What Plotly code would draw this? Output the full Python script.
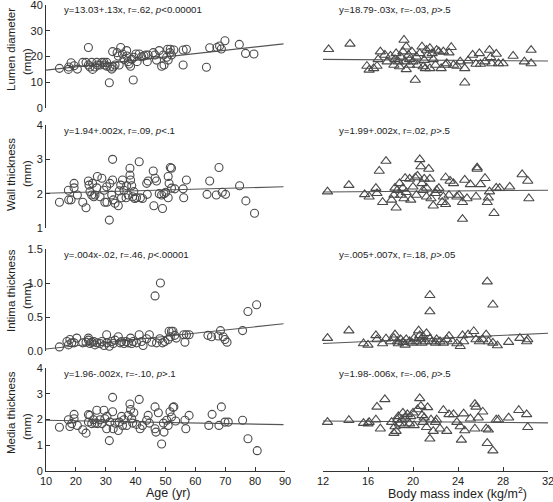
import plotly.graph_objects as go

# ---------------- data ----------------
age_lumen = [14.5,17.5,17.6,18.4,19.4,20.5,22.3,23.4,24.2,24.2,24.7,25.3,25.6,26.4,27.2,27.0,28.1,28.7,29.4,29.7,
             30.3,30.4,31.2,31.4,32.0,32.3,32.5,33.1,33.8,34.2,34.5,35.0,35.6,36.1,37.0,37.1,37.5,37.8,38.3,38.7,
             39.2,39.4,40.1,40.5,41.2,42.0,42.8,43.4,43.9,44.2,45.9,46.5,47.0,47.9,48.7,49.5,49.3,50.4,50.7,50.9,
             51.5,51.6,52.0,52.8,55.9,55.9,57.0,63.7,64.8,67.2,68.1,68.7,69.9,74.7,76.8,79.6]
lumen_by_age = [15.4,15.0,15.9,17.6,16.4,15.1,17.7,17.7,23.5,16.7,15.9,17.7,15.0,15.9,16.7,17.7,16.7,17.7,17.7,16.7,
                17.7,16.2,9.8,15.9,15.1,21.9,15.9,16.7,21.5,20.2,16.7,23.5,21.0,18.9,22.3,20.2,18.0,17.1,16.2,18.9,
                10.9,19.7,21.0,18.0,21.0,19.9,20.2,20.6,18.0,20.6,21.5,20.6,18.6,22.3,16.2,16.7,20.6,19.7,22.8,18.6,
                21.5,22.8,20.6,22.5,16.7,22.5,22.8,15.8,23.4,23.5,24.1,22.9,26.1,24.7,21.2,21.0]

age_wall = [14.5,17.5,17.6,18.4,19.4,19.4,20.5,22.3,23.4,24.2,24.4,24.7,25.3,25.6,26.0,26.4,27.0,27.2,28.1,28.7,
            29.4,29.7,30.3,30.4,31.2,31.4,32.0,32.3,32.3,32.5,33.1,34.2,34.5,35.0,35.3,35.6,36.1,36.8,37.0,37.5,
            38.1,38.1,38.3,38.7,39.0,39.4,39.7,40.3,41.2,41.6,42.3,43.7,43.9,44.2,45.9,46.1,46.5,47.0,47.9,48.7,
            49.0,49.5,50.1,50.9,50.9,51.2,51.6,52.0,52.0,53.1,55.9,56.1,57.0,63.9,64.8,67.0,67.9,69.0,70.1,74.8,
            76.9,79.8]
wall_by_age = [1.75,2.10,1.82,1.82,2.30,2.17,1.96,1.75,1.59,2.37,2.25,2.06,1.96,2.30,1.91,1.96,2.17,2.50,1.91,2.45,
               2.10,1.75,2.20,1.75,1.23,2.30,1.96,3.00,2.40,1.82,1.72,1.65,2.08,2.25,1.88,2.40,2.10,1.88,2.23,1.96,
               2.74,2.54,2.40,2.23,1.91,2.06,1.86,1.88,2.93,1.88,1.86,2.30,1.98,2.37,2.66,1.65,2.45,2.37,2.00,1.96,
               1.57,2.00,2.04,2.50,1.88,2.30,2.76,2.74,2.16,2.14,2.14,1.88,2.40,1.98,2.37,1.96,2.76,2.04,1.98,2.23,
               1.79,1.43]

age_intima = [14.5,17.0,17.5,18.0,18.6,19.4,20.3,22.3,23.4,24.2,24.2,24.7,25.3,26.0,26.4,27.0,28.1,28.7,29.4,30.3,
              30.4,31.2,32.0,32.5,33.1,34.2,34.8,35.3,36.1,36.8,37.5,38.3,38.7,39.2,40.3,41.2,42.0,42.5,43.7,44.6,
              45.4,46.5,47.0,48.3,48.1,49.0,49.8,50.9,51.2,51.6,52.0,52.5,53.1,53.6,56.1,56.5,57.0,57.9,64.2,65.4,
              67.6,68.4,69.3,69.9,70.6,75.8,77.6,80.5]
intima_by_age = [0.06,0.14,0.09,0.17,0.12,0.12,0.19,0.12,0.13,0.19,0.16,0.11,0.13,0.14,0.09,0.12,0.11,0.14,0.08,0.24,
                 0.12,0.07,0.14,0.11,0.16,0.21,0.12,0.14,0.11,0.14,0.12,0.19,0.11,0.14,0.12,0.24,0.14,0.08,0.18,0.24,
                 0.13,0.81,0.12,1.00,0.18,0.12,0.14,0.17,0.29,0.21,0.29,0.29,0.23,0.19,0.24,0.13,0.24,0.24,0.23,0.21,
                 0.22,0.30,0.21,0.17,0.13,0.30,0.58,0.68]

age_media = [14.5,17.5,18.0,18.6,19.4,19.4,20.5,22.3,23.4,24.2,24.2,24.7,25.3,25.9,26.4,27.0,27.2,28.1,28.7,29.4,
             29.7,30.3,30.4,31.2,31.4,32.3,32.3,32.5,33.1,34.2,34.5,35.3,35.6,36.1,37.0,37.5,38.1,38.3,38.7,39.0,
             39.4,40.3,41.2,41.5,42.3,43.7,44.2,44.6,46.5,46.5,46.8,47.6,48.7,49.3,49.5,50.4,50.9,51.5,52.0,52.5,
             52.8,53.4,56.5,56.8,57.9,64.5,65.6,67.9,68.7,69.9,71.0,75.8,77.6,80.7]
media_by_age = [1.70,1.99,1.73,1.84,2.20,2.03,1.77,1.60,1.47,2.19,1.90,2.16,1.84,1.99,1.86,2.36,1.84,1.99,1.84,2.36,
                2.03,1.64,2.12,1.18,1.90,2.86,2.30,1.64,1.86,1.57,1.90,2.12,1.77,1.99,1.77,2.16,2.60,2.39,2.03,1.86,
                2.26,1.81,2.78,1.64,1.77,1.97,2.16,1.86,2.49,1.64,1.51,2.26,1.05,1.86,1.51,1.97,1.77,2.30,2.10,2.47,
                2.49,1.94,1.97,1.64,2.16,1.77,2.20,1.77,2.49,1.90,1.90,1.97,1.25,0.79]

bmi_lumen = [12.5,14.4,15.9,16.1,16.5,16.8,16.9,17.1,17.5,17.7,18.0,18.3,18.4,18.5,18.7,18.8,18.9,19.1,19.2,19.3,
             19.4,19.4,19.6,19.7,19.7,19.9,20.0,20.2,20.3,20.4,20.6,20.8,20.9,21.0,21.1,21.2,21.3,21.5,21.5,21.7,
             21.8,22.0,22.1,22.3,22.5,22.7,22.9,23.0,23.2,23.4,23.6,23.9,24.2,24.6,24.6,24.9,25.3,25.6,25.9,26.0,
             26.4,26.8,26.9,27.0,27.4,27.6,28.0,28.9,29.9,30.5,30.5]
lumen_by_bmi = [22.8,24.9,16.3,14.8,15.4,16.3,18.9,21.9,20.6,18.0,20.2,16.7,18.9,21.2,18.0,16.1,19.9,21.9,26.4,18.0,
                23.8,15.0,20.6,18.9,16.7,21.9,18.0,10.9,19.9,16.7,21.2,23.8,16.1,18.6,15.4,22.5,20.6,23.2,15.4,21.2,
                18.9,16.7,22.5,21.9,15.4,21.9,16.7,17.3,21.5,23.6,16.7,16.3,18.0,9.8,15.4,18.4,20.6,17.1,21.2,17.1,
                18.0,22.5,19.7,17.3,21.0,17.3,17.3,20.2,18.0,22.5,17.3]

bmi_wall = [12.4,14.3,15.7,16.1,16.7,16.8,17.0,17.3,17.6,18.1,18.3,18.4,18.5,18.6,18.8,18.9,19.1,19.2,19.3,19.4,
            19.7,19.8,20.0,20.2,20.3,20.4,20.6,20.7,20.8,20.9,21.0,21.2,21.2,21.4,21.5,21.6,21.8,22.0,22.1,22.3,
            22.6,22.7,22.9,22.9,23.2,23.3,23.6,23.9,24.1,24.4,24.4,24.6,24.8,25.1,25.6,25.7,25.7,26.0,26.4,26.6,
            26.7,26.8,27.2,27.4,27.7,28.6,29.7,30.2,30.3]
wall_by_bmi = [2.06,2.25,1.98,1.91,2.16,2.01,2.66,1.75,2.95,1.82,1.96,2.17,1.59,2.10,2.30,1.96,2.16,1.86,2.45,2.04,
               2.43,1.82,2.20,2.47,1.96,2.52,3.00,2.79,2.30,2.10,2.43,1.91,2.17,2.72,2.43,1.86,1.65,2.01,2.10,2.16,
               1.75,1.91,2.47,1.69,1.96,2.37,2.30,1.91,1.96,1.75,1.26,2.40,1.86,2.27,1.91,2.76,2.72,2.27,2.45,1.75,
               1.88,2.06,1.43,2.17,2.16,2.20,2.56,2.37,1.86]

bmi_intima = [12.4,14.3,15.6,16.0,16.7,16.8,17.3,17.6,18.0,18.3,18.4,18.6,18.7,18.9,19.1,19.3,19.4,19.7,19.9,20.1,
              20.3,20.5,20.6,20.7,20.8,20.9,21.1,21.2,21.5,21.5,21.5,21.7,22.0,22.1,22.4,22.7,23.0,23.2,23.5,23.9,
              24.2,24.4,24.5,24.9,25.4,25.6,25.9,26.2,26.5,26.6,26.7,27.1,27.1,27.5,28.5,29.5,30.1,30.2]
intima_by_bmi = [0.19,0.30,0.11,0.09,0.23,0.17,0.11,0.18,0.14,0.19,0.24,0.14,0.11,0.17,0.13,0.09,0.17,0.14,0.12,0.19,
                 0.14,0.30,0.23,0.17,0.12,0.21,0.14,0.26,0.82,0.58,0.18,0.14,0.12,0.17,0.14,0.12,0.17,0.22,0.14,0.11,
                 0.07,0.23,0.14,0.24,0.29,0.17,0.14,0.17,0.24,1.02,0.14,0.68,0.12,0.08,0.13,0.19,0.14,0.17]

bmi_media = [12.4,14.3,15.6,16.0,16.1,16.7,16.8,17.1,17.5,18.1,18.3,18.4,18.5,18.6,18.7,18.8,19.0,19.1,19.2,19.3,
             19.5,19.7,19.8,20.0,20.1,20.4,20.6,20.7,20.8,20.9,21.0,21.2,21.3,21.5,21.6,21.8,22.0,22.1,22.4,22.7,
             23.0,23.2,23.6,23.9,24.2,24.3,24.5,24.6,25.1,25.5,25.5,25.6,25.8,26.2,26.5,26.6,26.7,27.1,27.4,27.6,
             28.5,29.4,30.1,30.2]
media_by_bmi = [1.90,1.97,1.86,1.84,1.90,1.99,2.49,1.64,2.78,1.90,1.47,1.73,1.55,1.99,2.12,1.84,1.99,2.26,1.77,2.07,
                2.20,1.84,2.12,2.26,1.77,2.39,2.82,2.52,2.16,1.90,2.07,1.70,2.47,1.25,1.99,1.55,1.90,1.99,1.64,2.36,
                1.55,2.20,2.20,1.90,1.73,1.21,2.23,1.57,2.03,1.64,2.60,2.49,2.07,2.30,1.64,1.08,1.60,0.79,1.99,1.99,
                2.07,2.36,2.20,1.70]

# regression line end points
fit_age = [10, 89.5]
fit_lumen_age = [14.7, 24.9]
fit_wall_age = [2.01, 2.20]
fit_intima_age = [0.03, 0.40]
fit_media_age = [1.97, 1.80]
fit_bmi = [12, 32]
fit_lumen_bmi = [18.9, 18.25]
fit_wall_bmi = [2.05, 2.10]
fit_intima_bmi = [0.11, 0.26]
fit_media_bmi = [1.94, 1.87]

row_titles = ["Lumen diameter", "Wall thickness", "Intima thickness", "Media thickness"]
unit_title = "(mm)"
y_ranges = [[0, 40], [1, 4], [0, 1.5], [0, 4]]
y_dticks = [10, 1, 0.5, 1]
y_formats = ["", "", ".1f", ""]
age_ticks = [10, 20, 30, 40, 50, 60, 70, 80, 90]
bmi_ticks = [12, 16, 20, 24, 28, 32]
eq_left = ["y=13.03+.13x, r=.62, <i>p</i>&lt;0.00001",
           "y=1.94+.002x, r=.09, <i>p</i>&lt;.1",
           "y=.004x-.02, r=.46, <i>p</i>&lt;.00001",
           "y=1.96-.002x, r=-.10, <i>p</i>&gt;.1"]
eq_right = ["y=18.79-.03x, r=-.03, <i>p</i>&gt;.5",
            "y=1.99+.002x, r=.02, <i>p</i>&gt;.5",
            "y=.005+.007x, r=.18, <i>p</i>&gt;.05",
            "y=1.98-.006x, r=-.06, <i>p</i>&gt;.5"]

left_x = [age_lumen, age_wall, age_intima, age_media]
left_y = [lumen_by_age, wall_by_age, intima_by_age, media_by_age]
right_x = [bmi_lumen, bmi_wall, bmi_intima, bmi_media]
right_y = [lumen_by_bmi, wall_by_bmi, intima_by_bmi, media_by_bmi]
left_fit = [fit_lumen_age, fit_wall_age, fit_intima_age, fit_media_age]
right_fit = [fit_lumen_bmi, fit_wall_bmi, fit_intima_bmi, fit_media_bmi]

# ---------------- layout geometry ----------------
W, H = 553, 502
ML, MR, MT, MB = 46, 5, 5, 31
PW, PH = W - ML - MR, H - MT - MB
x_dom = [[0.0, 239 / PW], [277 / PW, 1.0]]
row_px = [(5, 108), (125, 228), (249, 351), (368, 471)]
y_dom = [[1 - (b - MT) / PH, 1 - (t - MT) / PH] for t, b in row_px]
title_cy = [50, 175, 291, 413]
unit_cy = [62, 174, 296, 427]


def px_x(p):
    return (p - ML) / PW


def px_y(p):
    return 1 - (p - MT) / PH


FONT = "Liberation Sans, Arial, sans-serif"
MK = "#4a4a4a"
AX = "#333333"

fig = go.Figure()
layout = {}
annotations = []

for r in range(4):
    for c in range(2):
        n = r * 2 + c + 1
        xa = "x" if n == 1 else f"x{n}"
        ya = "y" if n == 1 else f"y{n}"
        if c == 0:
            xs, ys, fx, fy = left_x[r], left_y[r], fit_age, left_fit[r]
            sym, size = "circle-open", 8
        else:
            xs, ys, fx, fy = right_x[r], right_y[r], fit_bmi, right_fit[r]
            sym, size = "triangle-up-open", 9
        fig.add_trace(go.Scatter(x=fx, y=fy, mode="lines", xaxis=xa, yaxis=ya,
                                 line=dict(color="#555555", width=1.1), showlegend=False,
                                 hoverinfo="skip"))
        fig.add_trace(go.Scatter(x=xs, y=ys, mode="markers", xaxis=xa, yaxis=ya,
                                 marker=dict(symbol=sym, size=size, color=MK,
                                             line=dict(width=1.1, color=MK)),
                                 showlegend=False, cliponaxis=False))
        bottom = (r == 3)
        xkey = "xaxis" if n == 1 else f"xaxis{n}"
        ykey = "yaxis" if n == 1 else f"yaxis{n}"
        xr = [10, 90] if c == 0 else [12, 32]
        layout[xkey] = dict(domain=x_dom[c], anchor=ya, range=xr,
                            visible=bottom, showgrid=False, zeroline=False,
                            showline=True, linecolor=AX, linewidth=1,
                            ticks="inside", ticklen=4, tickcolor=AX, automargin=False,
                            ticklabeloverflow="allow",
                            tickvals=age_ticks if c == 0 else bmi_ticks,
                            tickfont=dict(family=FONT, size=11, color="#222"))
        layout[ykey] = dict(domain=y_dom[r], anchor=xa, range=y_ranges[r],
                            visible=(c == 0), showgrid=False, zeroline=False,
                            showline=True, linecolor=AX, linewidth=1,
                            ticks="inside", ticklen=4, tickcolor=AX, automargin=False,
                            ticklabeloverflow="allow",
                            dtick=y_dticks[r], tick0=y_ranges[r][0],
                            tickformat=y_formats[r], ticklabelstandoff=0,
                            tickfont=dict(family=FONT, size=11, color="#222"))
        # equation text
        ex_px = 62 if c == 0 else 337
        ey_px = row_px[r][0] + 5
        annotations.append(dict(text=(eq_left if c == 0 else eq_right)[r],
                                xref="paper", yref="paper",
                                x=px_x(ex_px), y=px_y(ey_px),
                                xanchor="left", yanchor="middle", showarrow=False,
                                font=dict(family=FONT, size=9.7, color="#222")))
    # row titles (two lines placed separately)
    annotations.append(dict(text=row_titles[r], textangle=-90, xref="paper", yref="paper",
                            x=px_x(11), y=px_y(title_cy[r]),
                            xanchor="center", yanchor="middle", showarrow=False,
                            font=dict(family=FONT, size=11.5, color="#222")))
    annotations.append(dict(text=unit_title, textangle=-90, xref="paper", yref="paper",
                            x=px_x(27), y=px_y(unit_cy[r]),
                            xanchor="center", yanchor="middle", showarrow=False,
                            font=dict(family=FONT, size=11.5, color="#222")))

annotations.append(dict(text="Age (yr)", xref="paper", yref="paper",
                        x=px_x(168), y=px_y(493),
                        xanchor="center", yanchor="middle", showarrow=False,
                        font=dict(family=FONT, size=12.5, color="#222")))
annotations.append(dict(text="Body mass index (kg/m<sup>2</sup>)", xref="paper", yref="paper",
                        x=px_x(457), y=px_y(493),
                        xanchor="center", yanchor="middle", showarrow=False,
                        font=dict(family=FONT, size=12.5, color="#222")))

fig.update_layout(width=W, height=H, margin=dict(l=ML, r=MR, t=MT, b=MB, autoexpand=False),
                  plot_bgcolor="white", paper_bgcolor="white", hovermode=False,
                  annotations=annotations, **layout)

fig.write_html("out.html", config={"displayModeBar": False, "staticPlot": True},
               post_script="document.body.style.margin='0';document.body.style.overflow='hidden';")
